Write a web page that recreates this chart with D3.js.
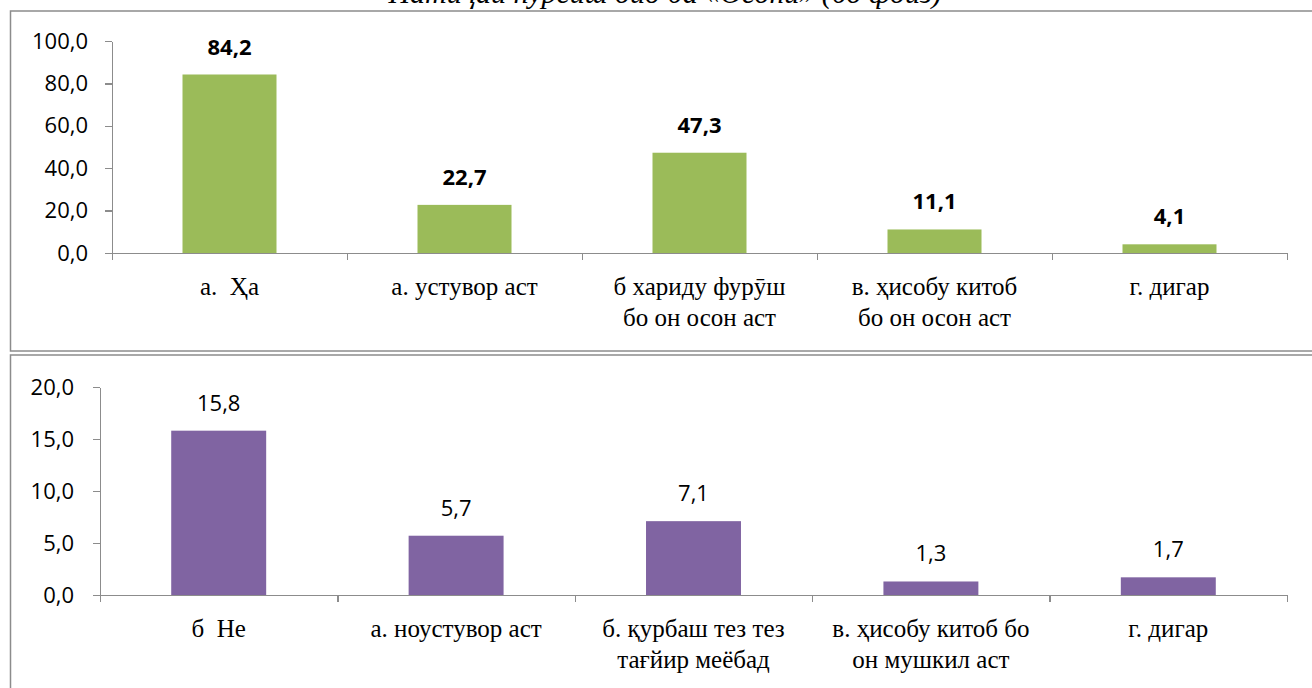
<!DOCTYPE html>
<meta charset="utf-8">
<style>
  body { margin: 0; background: #fff; }
  svg { display: block; }
  .axis path, .axis line { fill: none; stroke: #8c8c8c; stroke-width: 1.3px; shape-rendering: crispEdges; }
  .axis text { font-family: "Open Sans", sans-serif; font-size: 22px; fill: #000; }
  .frame { fill: none; stroke: #8c8c8c; stroke-width: 1.5px; }
</style>
<body>
<script src="https://cdn.jsdelivr.net/npm/d3@7"></script>
<script>

  var title = "Натиҷаи пурсиш оид ба «Осонӣ» (бо фоиз)";

  // Upper panel: "yes" answers
  var yesCategories = [["а.  Ҳа"], ["а. устувор аст"], ["б хариду фурӯш", "бо он осон аст"], ["в. ҳисобу китоб", "бо он осон аст"], ["г. дигар"]];
  var yesValues = [84.2, 22.7, 47.3, 11.1, 4.1];
  var yesTicks = [0, 20, 40, 60, 80, 100];

  // Lower panel: "no" answers
  var noCategories = [["б  Не"], ["а. ноустувор аст"], ["б. қурбаш тез тез", "тағйир меёбад"], ["в. ҳисобу китоб бо", "он мушкил аст"], ["г. дигар"]];
  var noValues = [15.8, 5.7, 7.1, 1.3, 1.7];
  var noTicks = [0, 5, 10, 15, 20];

  var width = 1312, height = 688;

  var svg = d3.select("body").append("svg")
    .attr("width", width)
    .attr("height", height);

  // title sits mostly above the page, as in the source
  svg.append("text")
    .attr("x", 665)
    .attr("y", 3)
    .attr("text-anchor", "middle")
    .style("font-family", "'Liberation Serif'")
    .style("font-style", "italic")
    .style("font-size", "30px")
    .text(title);

  var comma = function(d) { return d3.format(".1f")(d).replace(".", ","); };

  function panel(opts) {
    svg.append("rect")
      .attr("class", "frame")
      .attr("x", 10.5)
      .attr("y", opts.frameTop)
      .attr("width", 1310)
      .attr("height", opts.frameHeight);

    var g = svg.append("g")
      .attr("transform", "translate(" + opts.left + "," + opts.top + ")");

    var w = 1287 - opts.left;
    var h = opts.plotHeight;

    var x = d3.scaleBand()
      .domain(d3.range(opts.values.length))
      .range([0, w])
      .paddingInner(0.6)
      .paddingOuter(0.3);

    var xTick = d3.scaleLinear().domain([0, opts.values.length]).range([0, w]);

    var y = d3.scaleLinear()
      .domain([0, d3.max(opts.ticks)])
      .range([h, 0]);

    g.append("g")
      .attr("class", "axis")
      .call(d3.axisLeft(y).tickValues(opts.ticks).tickFormat(comma).tickSize(7).tickSizeOuter(0).tickPadding(opts.pad));

    g.selectAll(".bar")
      .data(opts.values)
      .enter().append("rect")
      .attr("class", "bar")
      .attr("x", function(d, i) { return x(i); })
      .attr("y", function(d) { return y(d); })
      .attr("width", x.bandwidth())
      .attr("height", function(d) { return h - y(d); })
      .attr("fill", opts.color);

    g.append("g")
      .attr("class", "axis")
      .attr("transform", "translate(0," + h + ")")
      .call(d3.axisBottom(xTick).tickValues(d3.range(opts.values.length + 1)).tickFormat("").tickSize(7).tickSizeOuter(0));

    g.selectAll(".val")
      .data(opts.values)
      .enter().append("text")
      .attr("class", "val")
      .attr("x", function(d, i) { return x(i) + x.bandwidth() / 2; })
      .attr("y", function(d) { return y(d) - 20; })
      .attr("text-anchor", "middle")
      .style("font-family", "'Open Sans'")
      .style("font-size", "22px")
      .style("font-weight", opts.bold ? "bold" : "normal")
      .text(function(d) { return comma(d); });

    var cats = g.selectAll(".cat")
      .data(opts.categories)
      .enter().append("text")
      .attr("class", "cat")
      .attr("text-anchor", "middle")
      .attr("transform", function(d, i) { return "translate(" + (x(i) + x.bandwidth() / 2) + "," + (h + 42) + ")"; });

    cats.selectAll("tspan")
      .data(function(d) { return d; })
      .enter().append("tspan")
      .attr("x", 0)
      .attr("y", function(d, j) { return j * 31; })
      .style("font-family", "'Liberation Serif'")
      .style("font-size", "25px")
      .style("white-space", "pre")
      .text(function(d) { return d; });
  }

  panel({
    frameTop: 11, frameHeight: 340,
    left: 112, top: 41, plotHeight: 212, pad: 17,
    values: yesValues, categories: yesCategories, ticks: yesTicks,
    color: "#9bbb59", bold: true
  });

  panel({
    frameTop: 355, frameHeight: 345,
    left: 100, top: 387, plotHeight: 208, pad: 19,
    values: noValues, categories: noCategories, ticks: noTicks,
    color: "#8064a2", bold: false
  });

</script>
